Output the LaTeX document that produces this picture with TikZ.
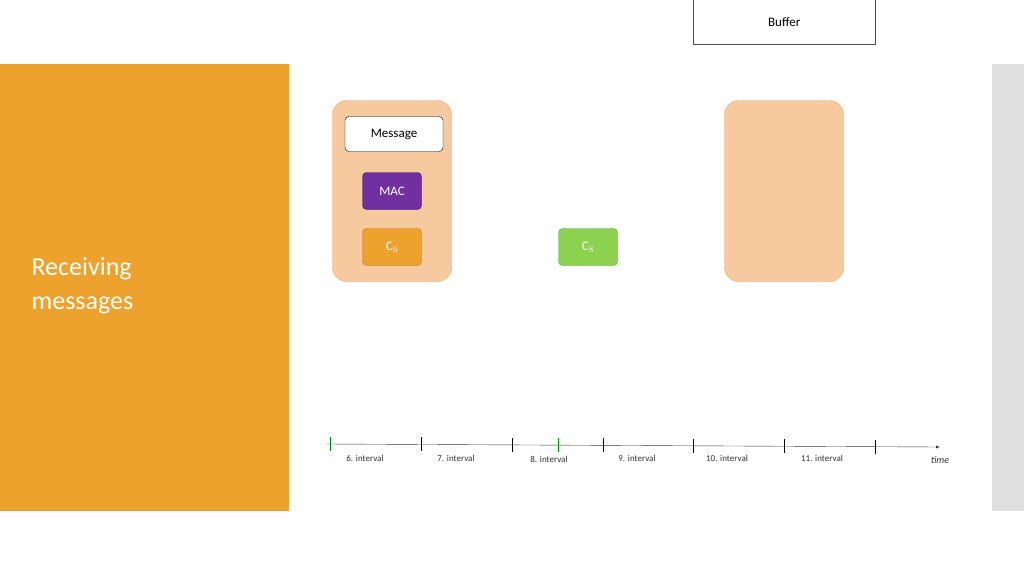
\documentclass[tikz,border=0pt]{standalone}
\usepackage{fontspec}
\setmainfont{Carlito}
\begin{document}
\begin{tikzpicture}[x=1pt,y=-1pt,
  lbl/.style={font=\fontsize{9}{10}\selectfont, text=black!80},
  tk/.style={line width=1pt}]
\useasboundingbox (0,0) rectangle (1024,576);
\fill[white] (0,0) rectangle (1024,576);
\fill[orange!75!yellow!90!black, fill={rgb,255:red,238;green,162;blue,46}] (0,64) rectangle (289,511);
\fill[black!12] (992,64) rectangle (1024,511);
\node[anchor=west, text=white, font=\fontsize{26}{34}\selectfont, align=left] (title) at (28,286) {Receiving\\messages};
\node[draw=black!70, minimum width=182, minimum height=45, anchor=north west, font=\fontsize{13}{14}\selectfont] (buf) at (693,-1) {Buffer};
\definecolor{peach}{RGB}{246,201,158}
\definecolor{peachb}{RGB}{240,170,90}
\node[draw=peachb, fill=peach, rounded corners=14, minimum width=119, minimum height=181] (g1) at (392,191) {};
\node[draw=peachb, fill=peach, rounded corners=14, minimum width=119, minimum height=181] (g2) at (784,191) {};
\node[draw=black, fill=white, rounded corners=4, minimum width=98, minimum height=35, font=\fontsize{13}{14}\selectfont] (msg) at (394,134) {Message};
\node[draw={rgb,255:red,60;green,20;blue,110}, fill={rgb,255:red,112;green,48;blue,160}, rounded corners=4, minimum width=59, minimum height=37, text=white, font=\fontsize{13}{14}\selectfont] (mac) at (392,191) {MAC};
\node[draw={rgb,255:red,190;green,120;blue,30}, fill={rgb,255:red,238;green,162;blue,46}, rounded corners=4, minimum width=59, minimum height=37, text=white, font=\fontsize{13}{14}\selectfont] (c6) at (392,247) {C$_{6}$};
\node[draw={rgb,255:red,80;green,170;blue,60}, fill={rgb,255:red,140;green,210;blue,80}, rounded corners=4, minimum width=59, minimum height=37, text=white, font=\fontsize{13}{14}\selectfont] (c8) at (588,247) {C$_{8}$};
\coordinate (t0) at (327,444);
\coordinate (t1) at (940,447);
\draw[black!80, -latex] (t0) -- (t1);
\foreach \x/\c in {330/green!50!black,421/black,512/black,558/green!60!black,603/black,693/black,784/black,875/black}{
  \draw[tk, \c] (\x,{437+3*(\x-327)/613}) -- ++(0,14);
}
\node[lbl] (l6) at (365,458) {6. interval};
\node[lbl] (l7) at (456,458) {7. interval};
\node[lbl] (l8) at (549,459) {8. interval};
\node[lbl] (l9) at (637,458) {9. interval};
\node[lbl] (l10) at (727,458) {10. interval};
\node[lbl] (l11) at (822,458) {11. interval};
\node[lbl, font=\itshape\fontsize{10}{11}\selectfont] (tm) at (940,460) {time};
\end{tikzpicture}
\end{document}
